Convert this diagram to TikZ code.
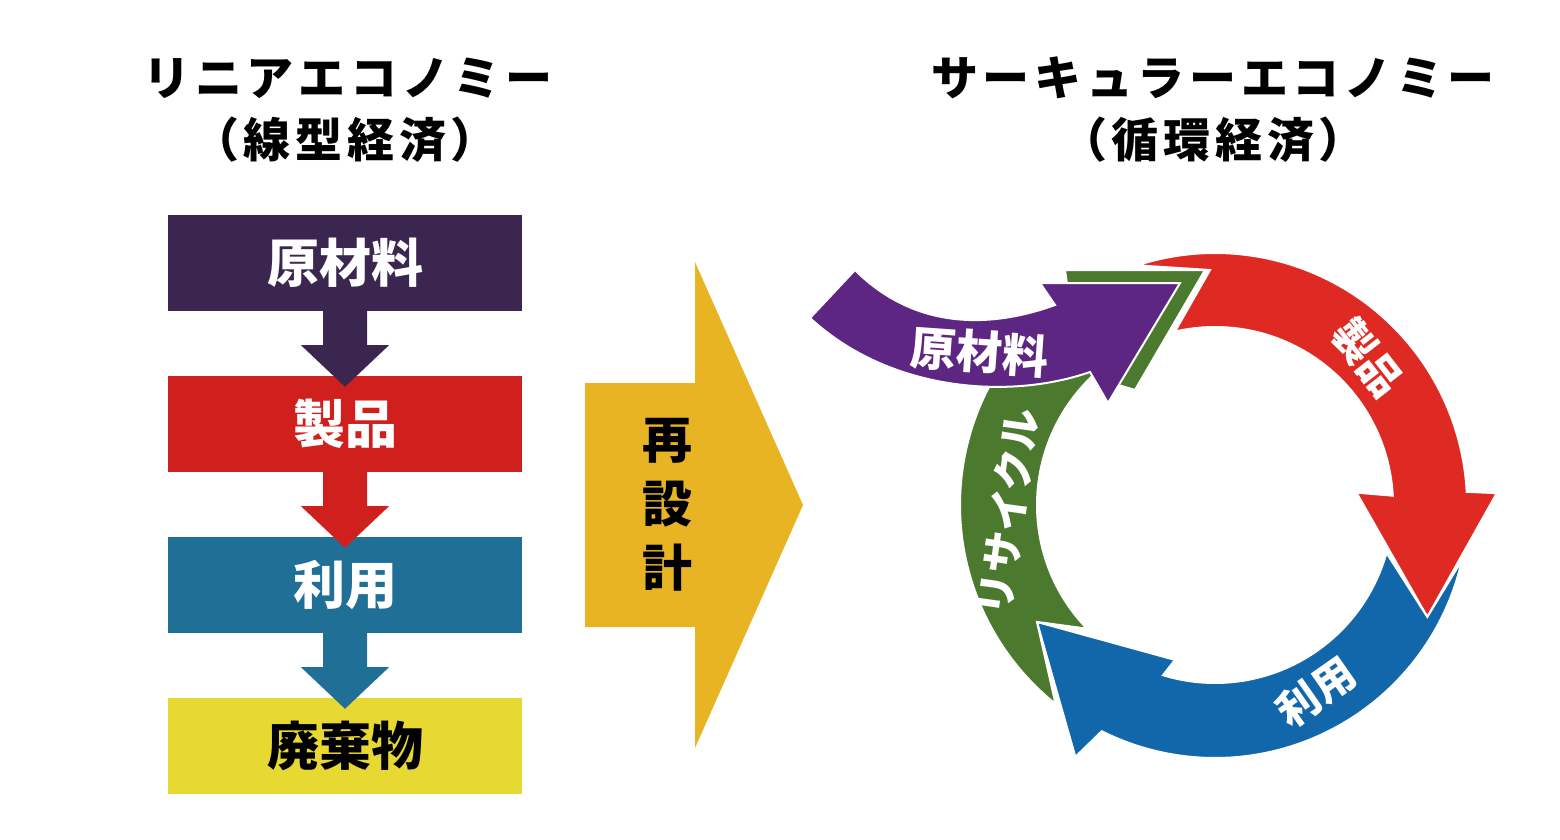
\documentclass[tikz,border=0pt]{standalone}
\usepackage{fontspec}
\usetikzlibrary{calc}
\newfontfamily\jp{Noto Sans CJK JP}
\definecolor{cpur}{HTML}{3B2650}
\definecolor{cred}{HTML}{D0201E}
\definecolor{cblu}{HTML}{1F6F97}
\definecolor{cyel}{HTML}{E8D832}
\definecolor{cgold}{HTML}{E8B424}
\definecolor{rred}{HTML}{DE2A22}
\definecolor{rblu}{HTML}{1267AA}
\definecolor{rgrn}{HTML}{4B7A2E}
\definecolor{rpur}{HTML}{5E2683}
\tikzset{
  box/.style={minimum width=354, minimum height=96, inner sep=0, font=\jp\bfseries\fontsize{52}{52}\selectfont, text=white},
  title/.style={font=\jp\bfseries\fontsize{47}{47}\selectfont\addfontfeature{LetterSpace=10}},
  seg/.style={draw=white, line width=2, line join=miter},
  rlab/.style={text=white, inner sep=0, font=\jp\bfseries\fontsize{42}{42}\selectfont},
}
\begin{document}
\begin{tikzpicture}[x=1pt,y=-1pt]
\path[use as bounding box, fill=white] (0,0) rectangle (1560,840);
% titles
\node[title] (t1) at (348,78) {リニアエコノミー};
\node[title] (t2) at (345,140) {（線型経済）};
\node[title] (t3) at (1213,78) {サーキュラーエコノミー};
\node[title] (t4) at (1213,140) {（循環経済）};
% linear boxes
\node[box, fill=cpur] (b1) at (345,263) {原材料};
\node[box, fill=cred] (b2) at (345,424) {製品};
\node[box, fill=cblu] (b3) at (345,585) {利用};
\node[box, fill=cyel, text=black] (b4) at (345,746) {廃棄物};
\foreach \a/\b/\c in {b1/b2/cpur, b2/b3/cred, b3/b4/cblu}{
  \fill[\c] ([xshift=-22]\a.south) -- ([xshift=-22,yshift=-34]\a.south) -- ([xshift=-44,yshift=-34]\a.south)
    -- ([yshift=-11]\b.north) -- ([xshift=44,yshift=-34]\a.south) -- ([xshift=22,yshift=-34]\a.south) -- ([xshift=22]\a.south) -- cycle;
}
% big arrow
\fill[cgold] (585,383) -- (695,383) -- (695,262) -- (803,505) -- (695,748) -- (695,627) -- (585,627) -- cycle;
\node[font=\jp\bfseries\fontsize{50}{50}\selectfont, align=center] (re) at (667,505) {再\\[14pt]設\\[14pt]計};
% ring
\coordinate (c) at (1215,505);
\filldraw[seg, fill=rred] ($(c)+(-108:252)$) arc[start angle=-108, end angle=-3, radius=252]
  -- ($(c)+(-2.4:282)$) -- ($(c)+(27.8:240)$) -- ($(c)+(-5:142)$) -- ($(c)+(-3:178)$)
  arc[start angle=-3, end angle=-103, radius=178] -- (1210,270) -- cycle;
\filldraw[seg, fill=rblu] ($(c)+(12.6:253)$) arc[start angle=12.6, end angle=116.6, radius=253]
  -- ($(c)+(119:288)$) -- ($(c)+(146.7:213)$) -- ($(c)+(104.5:160)$) -- ($(c)+(107:178)$)
  arc[start angle=107, end angle=15.6, radius=178] -- ($(c)+(27.8:240)$) -- cycle;
\filldraw[seg, fill=rgrn] ($(c)+(128.7:255)$) arc[start angle=128.7, end angle=235, radius=255]
  -- (1065,270) -- (1205,270) -- (1135,390) -- ($(c)+(226:178)$)
  arc[start angle=226, end angle=136, radius=178] -- ($(c)+(146.7:213)$) -- cycle;
\filldraw[seg, fill=rpur] (810,318) -- (855,270) .. controls (920,335) and (1000,325) .. (1055,305)
  -- (1040,283) -- (1180,283) -- (1108,403) -- (1090,372) .. controls (1010,400) and (890,392) .. cycle;
\node[rlab, font=\jp\bfseries\fontsize{46}{46}\selectfont, rotate=-4] (l1) at (980,352) {原材料};
\node[rlab, rotate=-52] (l2) at (1368,358) {製品};
\node[rlab, rotate=35] (l3) at (1316,692) {利用};
\node[rlab, rotate=82] (l4) at (1008,512) {リサイクル};
\end{tikzpicture}
\end{document}
